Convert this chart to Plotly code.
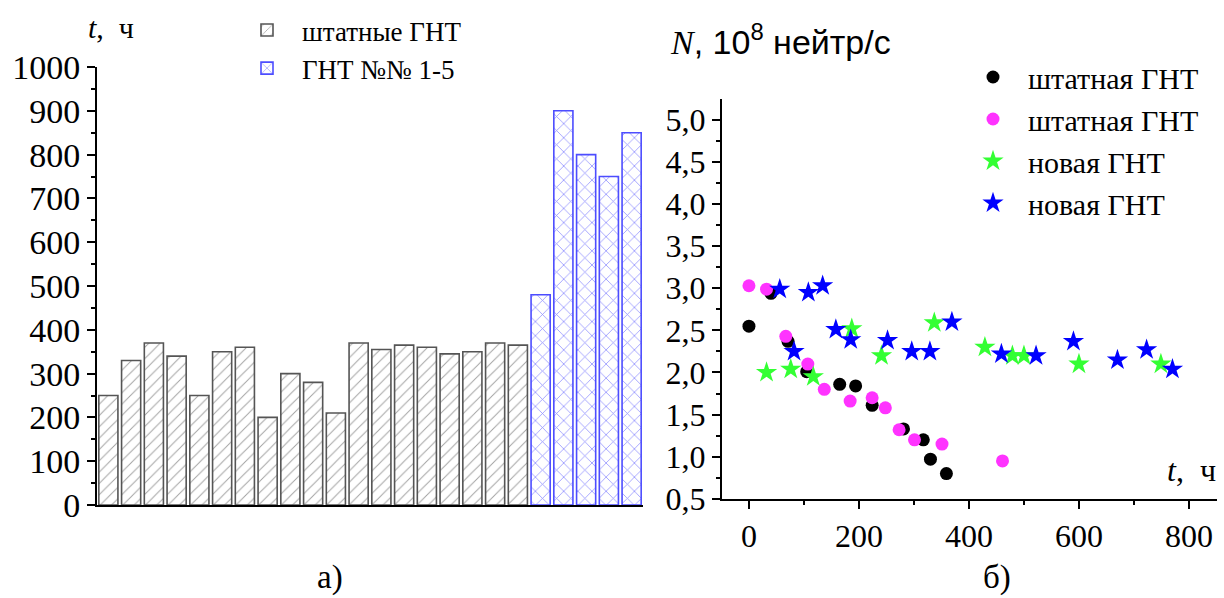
import plotly.graph_objects as go

W, H = 1224, 598

# ---- data: panel a) ----
standard_hours = [250, 330, 370, 340, 250, 350, 360, 200, 300, 280, 210,
                  370, 355, 365, 360, 345, 350, 370, 365]
new_hours = [480, 900, 800, 750, 850]
bar_names = ["штатные ГНТ", "ГНТ №№ 1-5"]

# ---- data: panel б) ----
black_t = [0, 40, 71, 105, 165, 194, 224, 281, 317, 330, 359]
black_N = [2.55, 2.94, 2.37, 2.01, 1.86, 1.84, 1.61, 1.33, 1.20, 0.97, 0.80]
pink_t = [0, 32, 67, 107, 137, 184, 224, 248, 273, 301, 351, 461]
pink_N = [3.03, 2.99, 2.43, 2.10, 1.80, 1.66, 1.70, 1.58, 1.32, 1.20, 1.15, 0.95]
green_t = [32, 76, 117, 187, 241, 337, 429, 479, 500, 600, 749]
green_N = [2.00, 2.04, 1.95, 2.52, 2.20, 2.59, 2.30, 2.20, 2.20, 2.10, 2.10]
blue_t = [56, 82, 108, 134, 158, 185, 252, 296, 329, 369, 459, 522, 590, 670, 723, 770]
blue_N = [2.99, 2.25, 2.95, 3.03, 2.51, 2.39, 2.38, 2.25, 2.25, 2.60, 2.22, 2.20, 2.37, 2.15, 2.27, 2.04]
scatter_names = ["штатная ГНТ", "штатная ГНТ", "новая ГНТ", "новая ГНТ"]

SERIF = "Liberation Serif"
SANS = "Liberation Sans"


def px_x(p):
    return p / W


def px_y(p):
    return 1 - p / H


fig = go.Figure()

x_std = list(range(len(standard_hours)))
x_new = list(range(len(standard_hours), len(standard_hours) + len(new_hours)))

fig.add_trace(go.Bar(
    x=x_std, y=standard_hours, name=bar_names[0], width=0.84,
    marker=dict(color="white", line=dict(color="#555555", width=1.6),
                pattern=dict(shape="/", fgcolor="#444444", bgcolor="white",
                             size=8, solidity=0.12)),
    xaxis="x", yaxis="y", legend="legend"))
fig.add_trace(go.Bar(
    x=x_new, y=new_hours, name=bar_names[1], width=0.84,
    marker=dict(color="white", line=dict(color="#4d4dff", width=1.6),
                pattern=dict(shape="x", fgcolor="#2020ff", bgcolor="white",
                             size=10, solidity=0.15)),
    xaxis="x", yaxis="y", legend="legend"))

fig.add_trace(go.Scatter(x=black_t, y=black_N, mode="markers", name=scatter_names[0],
                         marker=dict(symbol="circle", size=13, color="black"),
                         xaxis="x2", yaxis="y2", legend="legend2"))
fig.add_trace(go.Scatter(x=pink_t, y=pink_N, mode="markers", name=scatter_names[1],
                         marker=dict(symbol="circle", size=13, color="#ff33ff"),
                         xaxis="x2", yaxis="y2", legend="legend2"))
fig.add_trace(go.Scatter(x=green_t, y=green_N, mode="markers", name=scatter_names[2],
                         marker=dict(symbol="star", size=16, color="#33ff33"),
                         xaxis="x2", yaxis="y2", legend="legend2"))
fig.add_trace(go.Scatter(x=blue_t, y=blue_N, mode="markers", name=scatter_names[3],
                         marker=dict(symbol="star", size=16, color="#0000ff"),
                         xaxis="x2", yaxis="y2", legend="legend2"))

axis_common = dict(showgrid=False, zeroline=False, showline=True, linecolor="black",
                   linewidth=2, color="black")

fig.update_layout(
    width=W, height=H,
    margin=dict(l=0, r=0, t=0, b=0, pad=0, autoexpand=False),
    paper_bgcolor="white", plot_bgcolor="white",
    barmode="overlay",
    separators=", ",
    font=dict(family=SERIF, color="black"),
    xaxis=dict(domain=[px_x(97), px_x(643)], range=[-0.5, 23.5], showticklabels=False,
               ticks="", anchor="y", **axis_common),
    yaxis=dict(domain=[px_y(505), px_y(67)], range=[0, 1000], dtick=100, ticks="outside",
               ticklen=8, tickwidth=2, tickcolor="black", anchor="x",
               tickfont=dict(family=SERIF, size=34),
               minor=dict(ticks="outside", dtick=50, ticklen=4, tickwidth=1.5, tickcolor="black"),
               **axis_common),
    xaxis2=dict(domain=[px_x(722), px_x(1217)], range=[-49, 851], dtick=200, ticks="outside",
                ticklen=8, tickwidth=2, tickcolor="black", anchor="y2",
                tickfont=dict(family=SERIF, size=32),
                minor=dict(ticks="outside", dtick=100, ticklen=4, tickwidth=1.5, tickcolor="black"),
                **axis_common),
    yaxis2=dict(domain=[px_y(498.8), px_y(99)], range=[0.5, 5.248], dtick=0.5, tick0=0.5,
                tickformat=".1f", ticks="outside", ticklen=8, tickwidth=2, tickcolor="black",
                anchor="x2", tickfont=dict(family=SERIF, size=32),
                minor=dict(ticks="outside", dtick=0.25, ticklen=4, tickwidth=1.5, tickcolor="black"),
                **axis_common),
    legend=dict(x=px_x(232), y=px_y(6), xanchor="left", yanchor="top",
                font=dict(family=SERIF, size=27), bgcolor="rgba(0,0,0,0)",
                itemwidth=60, tracegroupgap=0),
    legend2=dict(x=px_x(958), y=px_y(51), xanchor="left", yanchor="top",
                 font=dict(family=SERIF, size=30), bgcolor="rgba(0,0,0,0)",
                 itemwidth=60, tracegroupgap=0),
    showlegend=True,
)

annotations = [
    dict(text="<i>t</i>,  ч", x=px_x(86), y=px_y(28), xanchor="left", yanchor="middle",
         font=dict(family=SERIF, size=30)),
    dict(text='<span style="font-family:Liberation Serif"><i>N</i></span>, 10<sup>8</sup> нейтр/с',
         x=px_x(668), y=px_y(40), xanchor="left", yanchor="middle",
         font=dict(family=SANS, size=34)),
    dict(text="<i>t</i>,  ч", x=px_x(1218), y=px_y(470), xanchor="right", yanchor="middle",
         font=dict(family=SERIF, size=32)),
    dict(text="а)", x=px_x(330), y=px_y(577), xanchor="center", yanchor="middle",
         font=dict(family=SERIF, size=33)),
    dict(text="б)", x=px_x(997), y=px_y(577), xanchor="center", yanchor="middle",
         font=dict(family=SERIF, size=33)),
]
for a in annotations:
    a.update(xref="paper", yref="paper", showarrow=False)
fig.update_layout(annotations=annotations)

fig.write_html("out.html",
               config={"displayModeBar": False},
               post_script="document.body.style.margin='0';document.body.style.overflow='hidden';")
